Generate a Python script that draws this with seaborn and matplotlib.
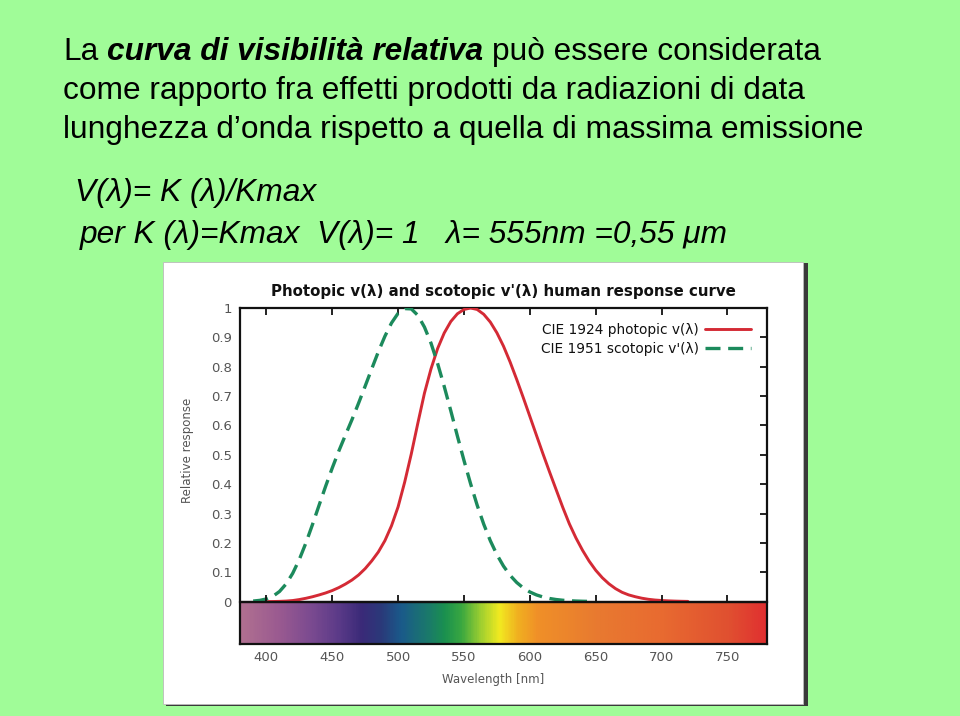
import numpy as np
import pandas as pd
import matplotlib
matplotlib.use("Agg")
import matplotlib.pyplot as plt
import seaborn as sns
from matplotlib.colors import LinearSegmentedColormap
from matplotlib.patches import Rectangle

# ---------------- data ----------------
wl_photopic = list(range(395, 725, 5))
v_photopic = [0.000217, 0.000396, 0.00064, 0.00121, 0.00218, 0.004, 0.0073, 0.0116,
              0.01684, 0.023, 0.0298, 0.038, 0.048, 0.06, 0.0739, 0.09098, 0.1126,
              0.13902, 0.1693, 0.20802, 0.2586, 0.323, 0.4073, 0.503, 0.6082, 0.71,
              0.7932, 0.862, 0.91485, 0.954, 0.9803, 0.99495, 1.0, 0.995, 0.9786,
              0.952, 0.9154, 0.87, 0.8163, 0.757, 0.6949, 0.631, 0.5668, 0.503,
              0.4412, 0.381, 0.321, 0.265, 0.217, 0.175, 0.1382, 0.107, 0.0816,
              0.061, 0.04458, 0.032, 0.0232, 0.017, 0.01192, 0.00821, 0.005723,
              0.004102, 0.002929, 0.002091, 0.001484, 0.001047]

wl_scotopic = list(range(390, 650, 5))
v_scotopic = [0.002209, 0.00453, 0.00929, 0.01852, 0.03484, 0.0604, 0.0966, 0.1436,
              0.1998, 0.2625, 0.3281, 0.3931, 0.455, 0.513, 0.567, 0.62, 0.676,
              0.734, 0.793, 0.851, 0.904, 0.949, 0.982, 0.998, 0.997, 0.975, 0.935,
              0.88, 0.811, 0.733, 0.65, 0.564, 0.481, 0.402, 0.3288, 0.2639, 0.2076,
              0.1602, 0.1212, 0.0899, 0.0655, 0.0469, 0.03315, 0.02312, 0.01593,
              0.01088, 0.00737, 0.00497, 0.003335, 0.002235, 0.001497, 0.001005]

x_ticks = [400, 450, 500, 550, 600, 650, 700, 750]
x_ticklabels = ["400", "450", "500", "550", "600", "650", "700", "750"]
y_ticks = [0, 0.1, 0.2, 0.3, 0.4, 0.5, 0.6, 0.7, 0.8, 0.9, 1.0]
y_ticklabels = ["0", "0.1", "0.2", "0.3", "0.4", "0.5", "0.6", "0.7", "0.8", "0.9", "1"]

series_labels = ["CIE 1924 photopic v(\u03bb)", "CIE 1951 scotopic v'(\u03bb)"]
chart_title = "Photopic v(\u03bb) and scotopic v'(\u03bb) human response curve"

# spectrum band colour stops (wavelength, colour)
spectrum_stops = [(380, "#b07090"), (409, "#9a5a90"), (434, "#7a4a90"), (455, "#5a3a88"),
                  (472, "#3a2a78"), (487, "#2a3a7a"), (502, "#1a5a8a"), (523, "#1a7a6a"),
                  (535, "#1a9050"), (548, "#3aa840"), (563, "#a0d030"), (577, "#f2ea20"),
                  (591, "#f0b020"), (606, "#f09028"), (651, "#e87a30"), (702, "#e86a30"),
                  (752, "#e05030"), (780, "#e03030")]

# ---------------- style ----------------
sns.set_theme(style="white")
plt.rcParams["font.family"] = ["DejaVu Sans"]

W, H = 960, 716
BG = "#a0fc98"
fig = plt.figure(figsize=(W / 100, H / 100), dpi=100, facecolor=BG)

def fx(px):
    return px / W

def fy(py):
    return 1 - py / H

# white picture panel with dark shadow edge
fig.patches.append(Rectangle((fx(166), fy(706)), fx(805 - 163), (705 - 262) / H,
                             transform=fig.transFigure, facecolor="#3a3a3a",
                             edgecolor="none", zorder=-3))
fig.patches.append(Rectangle((fx(163), fy(704)), fx(803 - 163), (704 - 262) / H,
                             transform=fig.transFigure, facecolor="white",
                             edgecolor="#bbbbbb", linewidth=0.6, zorder=-2))

# ---------------- chart ----------------
ax_l, ax_r, ax_t, ax_b = 240, 767, 308, 644
ax = fig.add_axes([fx(ax_l), fy(ax_b), fx(ax_r - ax_l), (ax_b - ax_t) / H])
ax.set_zorder(1)
ax.set_facecolor("white")
XMIN, XMAX, YMIN, YMAX = 380, 780, -0.144, 1.0

cmap = LinearSegmentedColormap.from_list(
    "spec", [((w - XMIN) / (XMAX - XMIN), c) for w, c in spectrum_stops])
grad = np.linspace(XMIN, XMAX, 600)[None, :]
ax.imshow(grad, extent=[XMIN, XMAX, YMIN, 0], aspect="auto", cmap=cmap,
          vmin=XMIN, vmax=XMAX, zorder=1, interpolation="bilinear")
ax.axhline(0, color="#111111", linewidth=1.6, zorder=3)

df_p = pd.DataFrame({"wl": wl_photopic, "v": v_photopic})
df_s = pd.DataFrame({"wl": wl_scotopic, "v": v_scotopic})
sns.lineplot(data=df_p, x="wl", y="v", ax=ax, color="#d42a35", linewidth=2.1,
             label=series_labels[0], zorder=4)
sns.lineplot(data=df_s, x="wl", y="v", ax=ax, color="#1c8a5c", linewidth=2.4,
             linestyle=(0, (4.5, 2.3)), label=series_labels[1], zorder=4)

ax.set_xlim(XMIN, XMAX)
ax.set_ylim(YMIN, YMAX)
ax.set_xticks(x_ticks)
ax.set_xticklabels(x_ticklabels)
ax.set_yticks(y_ticks)
ax.set_yticklabels(y_ticklabels)
ax.tick_params(axis="both", which="both", direction="in", top=True, right=True,
               length=5, width=1.3, colors="#111111", labelcolor="#555555",
               labelsize=9.5)
ax.tick_params(axis="x", pad=5)
ax.tick_params(axis="y", pad=6)
for s in ax.spines.values():
    s.set_color("#111111")
    s.set_linewidth(1.6)

# upward ticks on the zero line (top edge of spectrum band)
sec = ax.secondary_xaxis((0 - YMIN) / (YMAX - YMIN))
sec.set_zorder(5)
sec.set_xticks(x_ticks)
sec.tick_params(direction="in", length=5, width=1.3, colors="#111111",
                labelbottom=False)
sec.spines["bottom"].set_linewidth(1.6)
sec.spines["bottom"].set_color("#111111")

ax.set_title(chart_title, fontsize=10.8, fontweight="bold", color="#111111", pad=9)
ax.set_xlabel("Wavelength [nm]", fontsize=8.5, color="#555555")
ax.set_ylabel("Relative response", fontsize=8.5, color="#555555")
ax.xaxis.set_label_coords(0.48, -0.085)
ax.yaxis.set_label_coords(-0.088, 0.577)

leg = ax.legend(loc="upper right", bbox_to_anchor=(0.977, 0.967), frameon=False,
                markerfirst=False, fontsize=9.9, handlelength=3.3, handletextpad=0.45,
                labelspacing=0.35, borderaxespad=0, borderpad=0.3)
for t in leg.get_texts():
    t.set_color("#111111")

# ---------------- slide text ----------------
SLIDE_FONT = ["Liberation Sans", "DejaVu Sans"]
FS = 22.8
renderer = fig.canvas.get_renderer()

def text_width(s, **kw):
    t = fig.text(0, 0, s, fontsize=FS, family=SLIDE_FONT, **kw)
    w = t.get_window_extent(renderer=renderer).width
    t.remove()
    return w

def put_runs(x_px, base_px, runs):
    x = x_px
    for i, (s, style, weight) in enumerate(runs):
        if i > 0:
            x += text_width("a a", fontstyle=style, fontweight=weight) - \
                 text_width("aa", fontstyle=style, fontweight=weight)
        t = fig.text(fx(x), fy(base_px), s, fontsize=FS, family=SLIDE_FONT,
                     fontstyle=style, fontweight=weight, va="baseline", ha="left",
                     color="black")
        x += t.get_window_extent(renderer=renderer).width

put_runs(63, 60, [("La", "normal", "normal"),
                  ("curva di visibilit\u00e0 relativa", "italic", "bold"),
                  ("pu\u00f2 essere considerata", "normal", "normal")])
put_runs(63, 99, [("come rapporto fra effetti prodotti da radiazioni di data", "normal", "normal")])
put_runs(63, 138, [("lunghezza d\u2019onda rispetto a quella di massima emissione", "normal", "normal")])
put_runs(75, 201, [("V(\u03bb)= K (\u03bb)/Kmax", "italic", "normal")])
put_runs(80, 243, [("per K (\u03bb)=Kmax  V(\u03bb)= 1   \u03bb= 555nm =0,55 \u03bcm", "italic", "normal")])

fig.savefig("out.png", dpi=100, facecolor=BG)
